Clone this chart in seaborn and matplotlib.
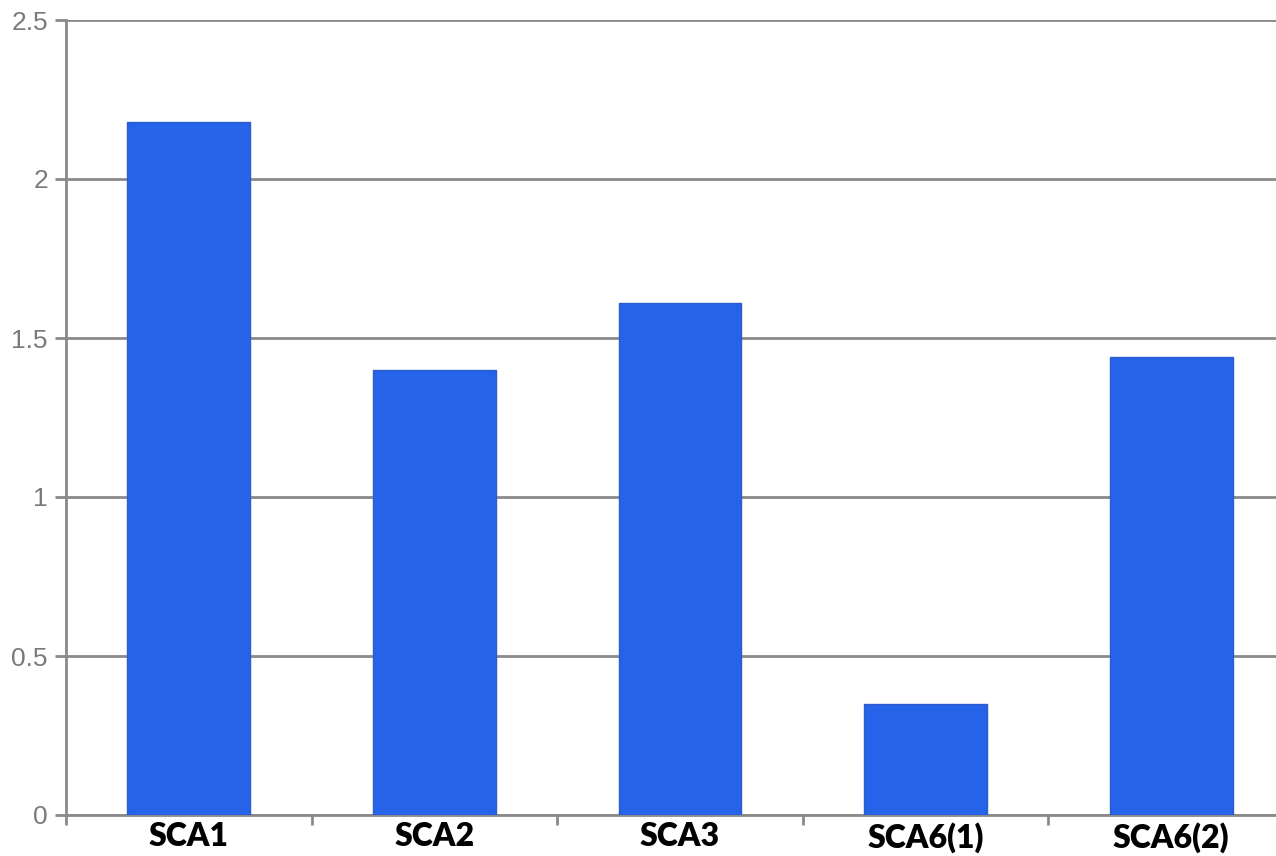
import numpy as np
import pandas as pd
import matplotlib.pyplot as plt
import seaborn as sns

categories = ["SCA1", "SCA2", "SCA3", "SCA6(1)", "SCA6(2)"]
values = [2.18, 1.40, 1.61, 0.35, 1.44]

df = pd.DataFrame({"group": categories, "value": values})

sns.set_style("white")
plt.rcParams['font.family'] = ['Liberation Sans', 'DejaVu Sans']

fig = plt.figure(figsize=(12.76, 8.56), dpi=100)
# axes runs a little past the right edge, as in the reference
ax = fig.add_axes([66 / 1276, 41 / 856, 1228 / 1276, 795 / 856])

sns.barplot(data=df, x="group", y="value", color="#2563E8", saturation=1,
            width=0.5, ax=ax, zorder=3, edgecolor="#2a5ccc", linewidth=1)

ax.set_ylim(0, 2.5)
ax.set_xlim(-0.5, 4.5)
ax.set_yticks([0, 0.5, 1, 1.5, 2, 2.5])
ax.set_yticklabels(["0", "0.5", "1", "1.5", "2", "2.5"], color="#7a7a7a", fontsize=19)
ax.yaxis.grid(True, color="#8a8a8a", linewidth=2, zorder=0)
ax.set_axisbelow(True)

for s in ["top", "right"]:
    ax.spines[s].set_visible(False)
for s in ["left", "bottom"]:
    ax.spines[s].set_color("#8a8a8a")
    ax.spines[s].set_linewidth(2)

ax.tick_params(axis="y", length=8, width=2, color="#8a8a8a", pad=5, left=True)
ax.set_xticks(range(len(categories)))
ax.set_xticklabels(categories, fontsize=23, fontweight="heavy", color="black",
                   family=["Lato", "DejaVu Sans"])
ax.tick_params(axis="x", length=0, pad=5)
ax.set_xticks(np.arange(-0.5, 5, 1), minor=True)
ax.tick_params(axis="x", which="minor", length=7, width=2, color="#8a8a8a", bottom=True)

ax.set_xlabel("")
ax.set_ylabel("")

fig.savefig("out.png", dpi=100)
